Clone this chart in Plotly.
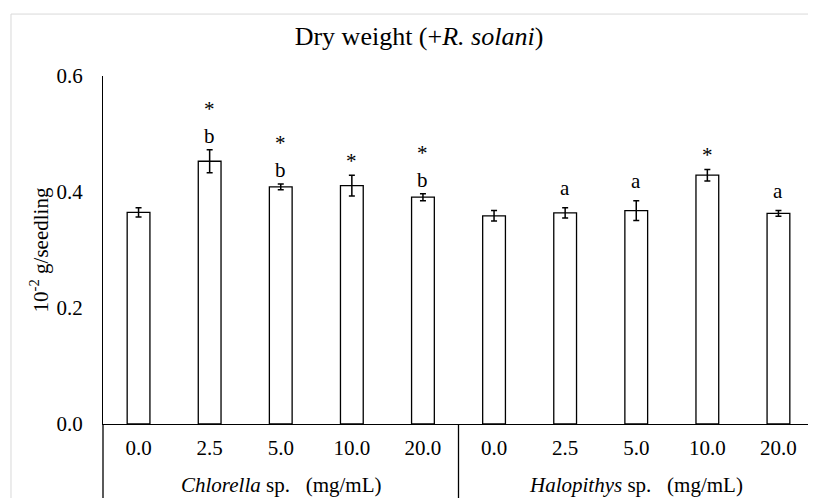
import plotly.graph_objects as go

# data
group_names = ['<i>Chlorella</i> sp.\u00a0\u00a0\u00a0(mg/mL)', '<i>Halopithys</i> sp.\u00a0\u00a0\u00a0(mg/mL)']
concs = ['0.0', '2.5', '5.0', '10.0', '20.0']
keys = ['C 0.0', 'C 2.5', 'C 5.0', 'C 10.0', 'C 20.0', 'H 0.0', 'H 2.5', 'H 5.0', 'H 10.0', 'H 20.0']
dry_weight = [0.365, 0.453, 0.409, 0.411, 0.391, 0.359, 0.364, 0.368, 0.429, 0.363]
sd = [0.008, 0.020, 0.005, 0.018, 0.006, 0.009, 0.009, 0.017, 0.010, 0.005]
marks = ['', '*<br>b', '*<br>b', '*', '*<br>b', '', 'a', 'a', '*', 'a']

FONT = 'Liberation Serif'
BLACK = 'black'

# page body has an 8px margin, so the figure is a bit smaller than the window
W, H = 808, 490

fig = go.Figure(go.Bar(
    x=keys, y=dry_weight,
    width=0.32,
    marker=dict(color='white', line=dict(color=BLACK, width=1.3)),
    error_y=dict(type='data', array=sd, visible=True, color=BLACK, thickness=1.5, width=3),
    hoverinfo='y'
))

# significance letters above the error bars
for k, v, e, m in zip(keys, dry_weight, sd, marks):
    if not m:
        continue
    fig.add_annotation(
        xref='x', yref='y', x=k, y=v + e, text=m, showarrow=False,
        yanchor='bottom', yshift=6 if m == 'a' else 0,
        font=dict(family=FONT, size=21, color=BLACK)
    )

# group labels under the concentrations
for i, name in enumerate(group_names):
    fig.add_annotation(
        xref='paper', yref='paper', x=0.25 + 0.5 * i, y=-0.176, text=name,
        showarrow=False, xanchor='center', yanchor='middle',
        font=dict(family=FONT, size=21, color=BLACK)
    )

# table-like frame below the axis
frame = [dict(type='line', xref='paper', yref='paper', x0=xp, x1=xp, y0=0, y1=-0.4,
              line=dict(color=BLACK, width=1.3)) for xp in (0, 0.5, 0.998)]
frame.append(dict(type='rect', xref='paper', yref='paper', x0=-0.1294, x1=1.5, y0=-1, y1=1.178,
                  line=dict(color='#d9d9d9', width=1), fillcolor='rgba(0,0,0,0)', layer='below'))

fig.update_layout(
    width=W, height=H,
    paper_bgcolor='white', plot_bgcolor='white',
    margin=dict(l=95, r=2, t=68, b=74),
    font=dict(family=FONT, size=21, color=BLACK),
    title=dict(text='Dry weight (+<i>R. solani</i>)', x=411 / W, xanchor='center',
               y=1 - 28 / H, yanchor='middle', font=dict(family=FONT, size=26, color=BLACK)),
    showlegend=False,
    shapes=frame
)
fig.update_xaxes(type='category', tickvals=keys, ticktext=concs * 2, automargin=False,
                 showline=True, linecolor=BLACK, linewidth=1.3, ticks='', ticklabelstandoff=5,
                 tickfont=dict(family=FONT, size=21, color=BLACK), showgrid=False)
fig.update_yaxes(range=[0, 0.6], dtick=0.2, tickformat='.1f', showline=True, linecolor=BLACK,
                 linewidth=1.3, ticks='', showgrid=False, zeroline=False, ticklabelstandoff=15,
                 automargin=False, tickfont=dict(family=FONT, size=21, color=BLACK),
                 title=dict(text='10<sup>-2</sup> g/seedling', standoff=2,
                            font=dict(family=FONT, size=21, color=BLACK)))

fig.write_html('out.html')
